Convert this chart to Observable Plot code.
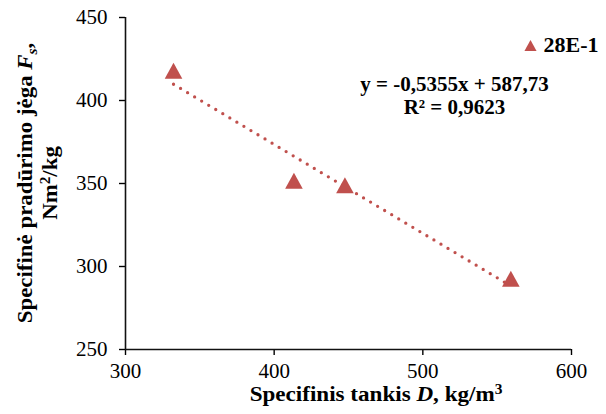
<!DOCTYPE html>
<html>
<head>
<meta charset="utf-8">
<script src="https://cdn.jsdelivr.net/npm/d3@7"></script>
<script src="https://cdn.jsdelivr.net/npm/@observablehq/plot@0.6"></script>
<style>
  html, body { margin: 0; padding: 0; background: #fff; }
  #chart svg { display: block; }
</style>
</head>
<body>
<div id="chart"></div>
<script>
// Specific density vs. specific puncture force, sample 28E-1
const densities = [332.3, 413.3, 447.6, 559.2];   // D, kg/m³
const forces = [417.9, 351.6, 348.9, 292.6];      // Fs, Nm²/kg
const seriesName = "28E-1";

// Linear trend stated on the chart
const slope = -0.5355;
const intercept = 587.73;
const rSquared = 0.9623;

const xTicks = [300, 400, 500, 600];
const yTicks = [250, 300, 350, 400, 450];

const markerColor = "#C0504D";
const serif = "'Liberation Serif', 'Times New Roman', serif";

const points = densities.map((d, i) => ({D: d, F: forces[i]}));
const trend = d3.extent(densities).map(d => ({D: d, F: slope * d + intercept}));

const comma = v => String(v).replace(".", ",");
const equation = `y = ${comma(slope)}x + ${comma(intercept)}\nR² = ${comma(rSquared)}`;

// Upright triangle centred on its bounding box
const triangle = {
  draw(context, size) {
    const r = Math.sqrt(size / Math.PI);
    context.moveTo(0, -r);
    context.lineTo(1.1 * r, r);
    context.lineTo(-1.1 * r, r);
    context.closePath();
  }
};

const chart = Plot.plot({
  width: 606,
  height: 414,
  marginLeft: 125,
  marginRight: 35,
  marginTop: 17,
  marginBottom: 65,
  style: {fontFamily: serif, fontSize: "21px", color: "#000", background: "#fff"},
  x: {domain: [300, 600]},
  y: {domain: [250, 450]},
  marks: [
    Plot.axisX({ticks: xTicks, tickSize: 6, tickPadding: 8, label: null, strokeWidth: 1.4}),
    Plot.axisY({ticks: yTicks, tickSize: 6, tickPadding: 12, label: null, strokeWidth: 1.4}),
    Plot.ruleX([300], {stroke: "#111", strokeWidth: 1.6}),
    Plot.ruleY([250], {stroke: "#111", strokeWidth: 1.6}),
    Plot.line(trend, {
      x: "D", y: "F", stroke: markerColor, strokeWidth: 3.3,
      strokeDasharray: "0 8.2", strokeLinecap: "round"
    }),
    Plot.dot(points, {x: "D", y: "F", symbol: triangle, r: 8, fill: markerColor, stroke: "none"}),
    Plot.text([equation], {
      frameAnchor: "top-right", dx: -117, dy: 57, textAnchor: "middle", lineAnchor: "top",
      fontWeight: "bold", fontSize: 21, lineHeight: 1.1, fill: "#000"
    }),
    Plot.dot([seriesName], {
      frameAnchor: "top-right", dx: -41, dy: 28, symbol: triangle, r: 5.5, fill: markerColor, stroke: "none"
    }),
    Plot.text([seriesName], {
      frameAnchor: "top-right", dx: -28, dy: 27, textAnchor: "start", lineAnchor: "middle",
      fontWeight: "bold", fontSize: 22, fill: "#000"
    })
  ]
});

// Axis titles with italic symbols, subscripts and superscripts
const svg = d3.select(chart);

const xTitle = svg.append("text")
  .attr("transform", "translate(376,401) scale(1.1,1)")
  .attr("text-anchor", "middle")
  .attr("font-family", serif).attr("font-weight", "bold").attr("font-size", 21)
  .attr("fill", "#000");
xTitle.append("tspan").text("Specifinis tankis ");
xTitle.append("tspan").attr("font-style", "italic").text("D");
xTitle.append("tspan").text(", kg/m");
xTitle.append("tspan").attr("font-size", 14).attr("dy", -7).text("3");

const yTitle = svg.append("g")
  .attr("transform", "translate(0,183) rotate(-90) scale(1.09,1)")
  .attr("font-family", serif).attr("font-weight", "bold").attr("font-size", 21)
  .attr("fill", "#000").attr("text-anchor", "middle");
const line1 = yTitle.append("text").attr("x", 0).attr("y", 32);
line1.append("tspan").text("Specifinė pradūrimo jėga ");
line1.append("tspan").attr("font-style", "italic").text("F");
line1.append("tspan").attr("font-style", "italic").attr("font-size", 14).attr("dy", 5).text("s");
line1.append("tspan").attr("dy", -5).text(",");
const line2 = yTitle.append("text").attr("x", 0).attr("y", 57);
line2.append("tspan").text("Nm");
line2.append("tspan").attr("font-size", 14).attr("dy", -7).text("2");
line2.append("tspan").attr("dy", 7).text("/kg");

document.getElementById("chart").append(chart);
</script>
</body>
</html>
